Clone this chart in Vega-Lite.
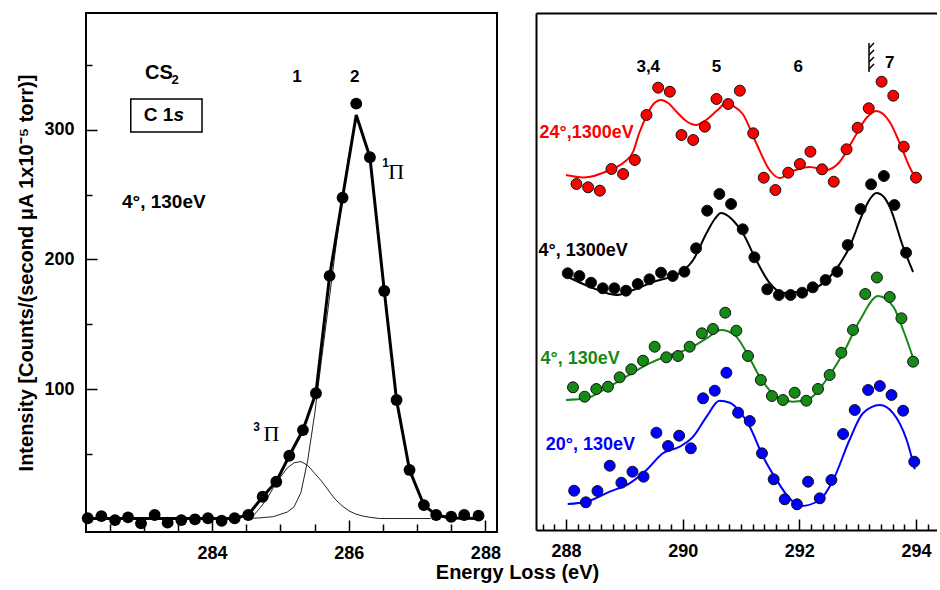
{
  "$schema": "https://vega.github.io/schema/vega-lite/v6.json",
  "padding": {"left": 15, "top": 12, "right": 0, "bottom": 0},
  "background": "white",
  "bounds": "flush",
  "spacing": 39,
  "title": {"text": "Energy Loss (eV)", "orient": "bottom", "anchor": "middle", "font": "Liberation Sans", "fontSize": 20, "fontWeight": "bold", "color": "black", "dx": 41, "offset": 0},
  "config": {
    "axis": {"labelFont": "Liberation Sans", "labelFontWeight": "bold", "labelFontSize": 18, "labelColor": "black", "tickColor": "black", "domainColor": "black", "grid": false, "titleFont": "Liberation Sans", "titleFontWeight": "bold", "titleColor": "black", "labelFlush": false, "labelOverlap": false},
    "text": {"font": "Liberation Sans", "color": "black"}
  },
  "datasets": {
    "lpts": [
      {"x": 282.18, "y": 0.2}, {"x": 282.38, "y": 1.9}, {"x": 282.58, "y": -1.2}, {"x": 282.77, "y": 0.9}, {"x": 282.96, "y": -3.7},
      {"x": 283.16, "y": 2.7}, {"x": 283.35, "y": -3.2}, {"x": 283.55, "y": -1.2}, {"x": 283.75, "y": -0.6}, {"x": 283.94, "y": 0.2},
      {"x": 284.14, "y": -1.7}, {"x": 284.33, "y": 0.2}, {"x": 284.53, "y": 2.7}, {"x": 284.74, "y": 16.8}, {"x": 284.94, "y": 28.4},
      {"x": 285.13, "y": 48.5}, {"x": 285.33, "y": 68.3}, {"x": 285.52, "y": 96.7}, {"x": 285.72, "y": 187.3}, {"x": 285.91, "y": 247.7},
      {"x": 286.11, "y": 320.3}, {"x": 286.31, "y": 278.9}, {"x": 286.52, "y": 175.7}, {"x": 286.70, "y": 91.5}, {"x": 286.89, "y": 37.5},
      {"x": 287.10, "y": 10.4}, {"x": 287.28, "y": 2.7}, {"x": 287.50, "y": 1.4}, {"x": 287.69, "y": 2.7}, {"x": 287.90, "y": 2.2}
    ],
    "lfit": [
      {"x": 282.18, "y": 0}, {"x": 284.33, "y": 0}, {"x": 284.53, "y": 3}, {"x": 284.74, "y": 16.8}, {"x": 284.94, "y": 28.4},
      {"x": 285.13, "y": 48.5}, {"x": 285.33, "y": 68.3}, {"x": 285.52, "y": 97}, {"x": 285.72, "y": 187}, {"x": 285.91, "y": 248},
      {"x": 286.11, "y": 311.6}, {"x": 286.31, "y": 279}, {"x": 286.52, "y": 176}, {"x": 286.70, "y": 91.5}, {"x": 286.89, "y": 37.5},
      {"x": 287.10, "y": 10.4}, {"x": 287.28, "y": 2.7}, {"x": 287.50, "y": 0.5}, {"x": 287.90, "y": 0}
    ],
    "lthin": [
      {"c": "3P", "x": 284.5, "y": 0}, {"c": "3P", "x": 284.6, "y": 2}, {"c": "3P", "x": 284.7, "y": 8}, {"c": "3P", "x": 284.8, "y": 15},
      {"c": "3P", "x": 284.9, "y": 24}, {"c": "3P", "x": 285.0, "y": 32}, {"c": "3P", "x": 285.1, "y": 39}, {"c": "3P", "x": 285.2, "y": 43},
      {"c": "3P", "x": 285.3, "y": 44}, {"c": "3P", "x": 285.4, "y": 41}, {"c": "3P", "x": 285.5, "y": 35}, {"c": "3P", "x": 285.6, "y": 29},
      {"c": "3P", "x": 285.7, "y": 22}, {"c": "3P", "x": 285.8, "y": 15}, {"c": "3P", "x": 285.9, "y": 10}, {"c": "3P", "x": 286.0, "y": 6},
      {"c": "3P", "x": 286.1, "y": 3.5}, {"c": "3P", "x": 286.2, "y": 2}, {"c": "3P", "x": 286.3, "y": 1}, {"c": "3P", "x": 286.45, "y": 0},
      {"c": "3P", "x": 287.2, "y": 0},
      {"c": "1P", "x": 284.5, "y": 0}, {"c": "1P", "x": 284.7, "y": 0.5}, {"c": "1P", "x": 284.9, "y": 1.5}, {"c": "1P", "x": 285.1, "y": 5},
      {"c": "1P", "x": 285.2, "y": 9}, {"c": "1P", "x": 285.3, "y": 20}, {"c": "1P", "x": 285.4, "y": 45}, {"c": "1P", "x": 285.5, "y": 80},
      {"c": "1P", "x": 285.6, "y": 122}, {"c": "1P", "x": 285.7, "y": 163}, {"c": "1P", "x": 285.8, "y": 205}, {"c": "1P", "x": 285.9, "y": 245},
      {"c": "1P", "x": 286.0, "y": 280}, {"c": "1P", "x": 286.11, "y": 311.6}, {"c": "1P", "x": 286.31, "y": 279}, {"c": "1P", "x": 286.52, "y": 176},
      {"c": "1P", "x": 286.70, "y": 91.5}, {"c": "1P", "x": 286.89, "y": 37.5}, {"c": "1P", "x": 287.10, "y": 10.4}, {"c": "1P", "x": 287.28, "y": 2.5},
      {"c": "1P", "x": 287.45, "y": 0}
    ],
    "ltext": [
      {"k": "big", "x": 283.019, "y": 344, "t": "CS"},
      {"k": "sub", "x": 283.46, "y": 338.6, "t": "2"},
      {"k": "mid", "x": 283.0, "y": 311.8, "t": "C 1"},
      {"k": "ital", "x": 283.436, "y": 311.8, "t": "s"},
      {"k": "mid", "x": 282.682, "y": 244.4, "t": "4°, 130eV"},
      {"k": "peak", "x": 285.244, "y": 341.2, "t": "1"},
      {"k": "peak", "x": 286.088, "y": 341.2, "t": "2"},
      {"k": "sup", "x": 286.54, "y": 274.3, "t": "1"},
      {"k": "sup", "x": 284.65, "y": 70.9, "t": "3"},
      {"k": "pi", "x": 286.695, "y": 267.8, "t": "Π"},
      {"k": "pi", "x": 284.87, "y": 65, "t": "Π"}
    ],
    "lbox": [{"x": 282.81, "x2": 283.853, "y": 298.5, "y2": 323.9}],
    "rpts": [
      {"s": "r", "x": 288.18, "y": 346}, {"s": "r", "x": 288.38, "y": 342.7}, {"s": "r", "x": 288.58, "y": 339.3}, {"s": "r", "x": 288.78, "y": 361},
      {"s": "r", "x": 288.98, "y": 356}, {"s": "r", "x": 289.18, "y": 370}, {"s": "r", "x": 289.38, "y": 415}, {"s": "r", "x": 289.58, "y": 442.3},
      {"s": "r", "x": 289.78, "y": 438.3}, {"s": "r", "x": 289.98, "y": 395}, {"s": "r", "x": 290.18, "y": 390}, {"s": "r", "x": 290.38, "y": 403.3},
      {"s": "r", "x": 290.58, "y": 431}, {"s": "r", "x": 290.78, "y": 426}, {"s": "r", "x": 290.98, "y": 439.3}, {"s": "r", "x": 291.21, "y": 396.7},
      {"s": "r", "x": 291.39, "y": 352.3}, {"s": "r", "x": 291.59, "y": 340}, {"s": "r", "x": 291.81, "y": 357.3}, {"s": "r", "x": 292.01, "y": 366},
      {"s": "r", "x": 292.19, "y": 378.3}, {"s": "r", "x": 292.39, "y": 360.7}, {"s": "r", "x": 292.59, "y": 348.3}, {"s": "r", "x": 292.81, "y": 380.7},
      {"s": "r", "x": 293.00, "y": 402.3}, {"s": "r", "x": 293.19, "y": 421.7}, {"s": "r", "x": 293.41, "y": 448.3}, {"s": "r", "x": 293.61, "y": 434.3},
      {"s": "r", "x": 293.79, "y": 383.3}, {"s": "r", "x": 294.00, "y": 352.3},
      {"s": "k", "x": 288.03, "y": 256.7}, {"s": "k", "x": 288.23, "y": 254}, {"s": "k", "x": 288.43, "y": 247.3}, {"s": "k", "x": 288.63, "y": 241.7},
      {"s": "k", "x": 288.83, "y": 241.7}, {"s": "k", "x": 289.03, "y": 239.3}, {"s": "k", "x": 289.23, "y": 246}, {"s": "k", "x": 289.43, "y": 250.7},
      {"s": "k", "x": 289.63, "y": 257.3}, {"s": "k", "x": 289.83, "y": 254}, {"s": "k", "x": 290.03, "y": 258.3}, {"s": "k", "x": 290.23, "y": 281.7},
      {"s": "k", "x": 290.42, "y": 319.3}, {"s": "k", "x": 290.63, "y": 336}, {"s": "k", "x": 290.83, "y": 326}, {"s": "k", "x": 291.03, "y": 300.7},
      {"s": "k", "x": 291.23, "y": 272.7}, {"s": "k", "x": 291.45, "y": 240.7}, {"s": "k", "x": 291.65, "y": 235}, {"s": "k", "x": 291.85, "y": 235},
      {"s": "k", "x": 292.05, "y": 237.3}, {"s": "k", "x": 292.23, "y": 242.7}, {"s": "k", "x": 292.45, "y": 250}, {"s": "k", "x": 292.65, "y": 258.3},
      {"s": "k", "x": 292.83, "y": 285}, {"s": "k", "x": 293.05, "y": 321}, {"s": "k", "x": 293.23, "y": 345.7}, {"s": "k", "x": 293.45, "y": 354},
      {"s": "k", "x": 293.63, "y": 325}, {"s": "k", "x": 293.83, "y": 277.3},
      {"s": "g", "x": 288.12, "y": 142.7}, {"s": "g", "x": 288.32, "y": 133.3}, {"s": "g", "x": 288.52, "y": 141}, {"s": "g", "x": 288.72, "y": 143.3},
      {"s": "g", "x": 288.92, "y": 152.7}, {"s": "g", "x": 289.12, "y": 160.7}, {"s": "g", "x": 289.32, "y": 169.3}, {"s": "g", "x": 289.52, "y": 183.3},
      {"s": "g", "x": 289.72, "y": 172.7}, {"s": "g", "x": 289.92, "y": 174}, {"s": "g", "x": 290.12, "y": 183.3}, {"s": "g", "x": 290.33, "y": 196.7},
      {"s": "g", "x": 290.52, "y": 201}, {"s": "g", "x": 290.73, "y": 217.3}, {"s": "g", "x": 290.92, "y": 199.3}, {"s": "g", "x": 291.12, "y": 174},
      {"s": "g", "x": 291.34, "y": 150}, {"s": "g", "x": 291.53, "y": 134}, {"s": "g", "x": 291.72, "y": 130}, {"s": "g", "x": 291.92, "y": 137.3},
      {"s": "g", "x": 292.12, "y": 129.3}, {"s": "g", "x": 292.32, "y": 141}, {"s": "g", "x": 292.52, "y": 155}, {"s": "g", "x": 292.72, "y": 177.3},
      {"s": "g", "x": 292.92, "y": 200}, {"s": "g", "x": 293.13, "y": 236}, {"s": "g", "x": 293.33, "y": 252.5}, {"s": "g", "x": 293.55, "y": 233},
      {"s": "g", "x": 293.75, "y": 211.7}, {"s": "g", "x": 293.95, "y": 168.3},
      {"s": "b", "x": 288.14, "y": 39.3}, {"s": "b", "x": 288.34, "y": 27.7}, {"s": "b", "x": 288.54, "y": 39}, {"s": "b", "x": 288.75, "y": 64.3},
      {"s": "b", "x": 288.95, "y": 47.3}, {"s": "b", "x": 289.14, "y": 58.3}, {"s": "b", "x": 289.33, "y": 53.3}, {"s": "b", "x": 289.55, "y": 97.3},
      {"s": "b", "x": 289.75, "y": 84}, {"s": "b", "x": 289.94, "y": 94.3}, {"s": "b", "x": 290.14, "y": 81.7}, {"s": "b", "x": 290.35, "y": 131.7},
      {"s": "b", "x": 290.55, "y": 139.3}, {"s": "b", "x": 290.75, "y": 157.3}, {"s": "b", "x": 290.95, "y": 117.3}, {"s": "b", "x": 291.15, "y": 109},
      {"s": "b", "x": 291.36, "y": 76.7}, {"s": "b", "x": 291.56, "y": 50.7}, {"s": "b", "x": 291.75, "y": 30.7}, {"s": "b", "x": 291.96, "y": 25.7},
      {"s": "b", "x": 292.15, "y": 48.3}, {"s": "b", "x": 292.35, "y": 31.7}, {"s": "b", "x": 292.55, "y": 50}, {"s": "b", "x": 292.75, "y": 96},
      {"s": "b", "x": 292.95, "y": 120}, {"s": "b", "x": 293.18, "y": 140}, {"s": "b", "x": 293.38, "y": 144}, {"s": "b", "x": 293.58, "y": 135},
      {"s": "b", "x": 293.78, "y": 119.3}, {"s": "b", "x": 293.97, "y": 68.3}
    ],
    "rcurve": [
      {"s": "r", "x": 288.0, "y": 355}, {"s": "r", "x": 288.3, "y": 352.5}, {"s": "r", "x": 288.75, "y": 360}, {"s": "r", "x": 289.0, "y": 368},
      {"s": "r", "x": 289.15, "y": 378}, {"s": "r", "x": 289.25, "y": 396}, {"s": "r", "x": 289.38, "y": 414}, {"s": "r", "x": 289.5, "y": 426},
      {"s": "r", "x": 289.63, "y": 430}, {"s": "r", "x": 289.75, "y": 427}, {"s": "r", "x": 289.9, "y": 418}, {"s": "r", "x": 290.06, "y": 409},
      {"s": "r", "x": 290.23, "y": 405}, {"s": "r", "x": 290.4, "y": 410}, {"s": "r", "x": 290.6, "y": 420}, {"s": "r", "x": 290.75, "y": 427},
      {"s": "r", "x": 290.87, "y": 424}, {"s": "r", "x": 291.03, "y": 416}, {"s": "r", "x": 291.26, "y": 387}, {"s": "r", "x": 291.49, "y": 360},
      {"s": "r", "x": 291.66, "y": 352}, {"s": "r", "x": 291.89, "y": 359}, {"s": "r", "x": 292.18, "y": 363}, {"s": "r", "x": 292.46, "y": 360},
      {"s": "r", "x": 292.69, "y": 368}, {"s": "r", "x": 292.92, "y": 390}, {"s": "r", "x": 293.15, "y": 412}, {"s": "r", "x": 293.32, "y": 419},
      {"s": "r", "x": 293.55, "y": 408}, {"s": "r", "x": 293.72, "y": 387}, {"s": "r", "x": 293.89, "y": 363}, {"s": "r", "x": 293.98, "y": 353},
      {"s": "k", "x": 288.0, "y": 254}, {"s": "k", "x": 288.46, "y": 242}, {"s": "k", "x": 288.86, "y": 235}, {"s": "k", "x": 289.15, "y": 240},
      {"s": "k", "x": 289.49, "y": 248}, {"s": "k", "x": 289.95, "y": 257}, {"s": "k", "x": 290.18, "y": 270}, {"s": "k", "x": 290.41, "y": 297},
      {"s": "k", "x": 290.55, "y": 311}, {"s": "k", "x": 290.66, "y": 317}, {"s": "k", "x": 290.78, "y": 314}, {"s": "k", "x": 290.89, "y": 308},
      {"s": "k", "x": 291.03, "y": 297}, {"s": "k", "x": 291.26, "y": 270}, {"s": "k", "x": 291.49, "y": 247}, {"s": "k", "x": 291.72, "y": 237},
      {"s": "k", "x": 292.18, "y": 240}, {"s": "k", "x": 292.58, "y": 257}, {"s": "k", "x": 292.86, "y": 283}, {"s": "k", "x": 293.09, "y": 317},
      {"s": "k", "x": 293.2, "y": 330}, {"s": "k", "x": 293.32, "y": 337}, {"s": "k", "x": 293.45, "y": 333}, {"s": "k", "x": 293.55, "y": 323},
      {"s": "k", "x": 293.78, "y": 283}, {"s": "k", "x": 293.95, "y": 258},
      {"s": "g", "x": 288.0, "y": 130}, {"s": "g", "x": 288.35, "y": 131.7}, {"s": "g", "x": 288.69, "y": 141.7}, {"s": "g", "x": 289.03, "y": 153.3},
      {"s": "g", "x": 289.43, "y": 166.7}, {"s": "g", "x": 289.78, "y": 175}, {"s": "g", "x": 290.12, "y": 181.7}, {"s": "g", "x": 290.41, "y": 191.7},
      {"s": "g", "x": 290.66, "y": 200}, {"s": "g", "x": 290.89, "y": 195}, {"s": "g", "x": 291.09, "y": 178.3}, {"s": "g", "x": 291.32, "y": 153.3},
      {"s": "g", "x": 291.61, "y": 133.3}, {"s": "g", "x": 291.89, "y": 128.3}, {"s": "g", "x": 292.18, "y": 131.7}, {"s": "g", "x": 292.46, "y": 150},
      {"s": "g", "x": 292.75, "y": 176.7}, {"s": "g", "x": 293.04, "y": 210}, {"s": "g", "x": 293.35, "y": 234}, {"s": "g", "x": 293.61, "y": 223.3},
      {"s": "g", "x": 293.78, "y": 200}, {"s": "g", "x": 293.95, "y": 172},
      {"s": "b", "x": 288.03, "y": 26}, {"s": "b", "x": 288.35, "y": 28.3}, {"s": "b", "x": 288.75, "y": 38.3}, {"s": "b", "x": 289.09, "y": 46.7},
      {"s": "b", "x": 289.38, "y": 60}, {"s": "b", "x": 289.66, "y": 76.7}, {"s": "b", "x": 289.95, "y": 83.3}, {"s": "b", "x": 290.18, "y": 93.3},
      {"s": "b", "x": 290.41, "y": 113.3}, {"s": "b", "x": 290.63, "y": 129.3}, {"s": "b", "x": 290.81, "y": 127.3}, {"s": "b", "x": 290.98, "y": 118.3},
      {"s": "b", "x": 291.15, "y": 103.3}, {"s": "b", "x": 291.38, "y": 73.3}, {"s": "b", "x": 291.61, "y": 50}, {"s": "b", "x": 291.83, "y": 31.7},
      {"s": "b", "x": 292.03, "y": 24}, {"s": "b", "x": 292.35, "y": 30}, {"s": "b", "x": 292.58, "y": 50}, {"s": "b", "x": 292.86, "y": 90},
      {"s": "b", "x": 293.09, "y": 116.7}, {"s": "b", "x": 293.38, "y": 125}, {"s": "b", "x": 293.61, "y": 116.7}, {"s": "b", "x": 293.84, "y": 90},
      {"s": "b", "x": 293.98, "y": 60.7}
    ],
    "rtext": [
      {"k": "pk", "s": "k", "x": 289.41, "y": 463, "t": "3,4"},
      {"k": "pk", "s": "k", "x": 290.58, "y": 463, "t": "5"},
      {"k": "pk", "s": "k", "x": 291.98, "y": 463, "t": "6"},
      {"k": "pk", "s": "k", "x": 293.55, "y": 467.5, "t": "7"},
      {"k": "ser", "s": "r", "x": 287.545, "y": 397, "t": "24°,1300eV"},
      {"k": "ser", "s": "k", "x": 287.528, "y": 279.3, "t": "4°, 1300eV"},
      {"k": "ser", "s": "g", "x": 287.562, "y": 170.7, "t": "4°, 130eV"},
      {"k": "ser", "s": "b", "x": 287.652, "y": 85, "t": "20°, 130eV"}
    ],
    "thr": [
      {"x": 293.195, "x2": 293.195, "y": 458, "y2": 487},
      {"x": 293.195, "x2": 293.28, "y": 482, "y2": 487},
      {"x": 293.195, "x2": 293.28, "y": 475, "y2": 480},
      {"x": 293.195, "x2": 293.28, "y": 468, "y2": 473},
      {"x": 293.195, "x2": 293.28, "y": 461, "y2": 466}
    ]
  },
  "hconcat": [
    {
      "width": 411,
      "height": 519,
      "view": {"stroke": "black", "strokeWidth": 2},
      "resolve": {"axis": {"x": "independent", "y": "independent"}},
      "layer": [
        {
          "data": {"name": "lthin"},
          "mark": {"type": "line", "color": "#222222", "strokeWidth": 1},
          "encoding": {
            "x": {"field": "x", "type": "quantitative", "scale": {"domain": [282.155, 288.17], "nice": false, "zero": false},
                  "axis": {"orient": "bottom", "values": [282.5, 283, 283.5, 284.5, 285, 285.5, 286.5, 287, 287.5], "labels": false, "domain": false, "tickSize": -8, "tickWidth": 1.5, "title": null}},
            "y": {"field": "y", "type": "quantitative", "scale": {"domain": [-10.4, 390.3], "nice": false, "zero": false},
                  "axis": {"orient": "left", "values": [50, 150, 250, 350], "labels": false, "domain": false, "tickSize": -6, "tickWidth": 1.5, "title": null}},
            "detail": {"field": "c"}
          }
        },
        {
          "data": {"name": "lfit"},
          "mark": {"type": "line", "color": "black", "strokeWidth": 3},
          "encoding": {
            "x": {"field": "x", "type": "quantitative", "scale": {"domain": [282.155, 288.17], "nice": false, "zero": false},
                  "axis": {"orient": "bottom", "values": [284, 286, 288], "labels": false, "domain": false, "tickSize": -12, "tickWidth": 1.5, "title": null}},
            "y": {"field": "y", "type": "quantitative", "scale": {"domain": [-10.4, 390.3], "nice": false, "zero": false},
                  "axis": {"orient": "left", "values": [100, 200, 300], "labels": false, "domain": false, "tickSize": -11, "tickWidth": 1.5, "title": null}}
          }
        },
        {
          "data": {"name": "lpts"},
          "mark": {"type": "point", "shape": "circle", "filled": true, "color": "black", "size": 140, "opacity": 1},
          "encoding": {
            "x": {"field": "x", "type": "quantitative", "scale": {"domain": [282.155, 288.17], "nice": false, "zero": false},
                  "axis": {"orient": "bottom", "values": [284, 286, 288], "ticks": false, "domain": false, "labelPadding": 12, "title": null}},
            "y": {"field": "y", "type": "quantitative", "scale": {"domain": [-10.4, 390.3], "nice": false, "zero": false},
                  "axis": {"orient": "left", "values": [100, 200, 300], "ticks": false, "domain": false, "labelPadding": 12,
                           "title": "Intensity [Counts/(second μA 1x10⁻⁵ torr)]", "titleFontSize": 20, "titlePadding": 7}}
          }
        },
        {
          "data": {"name": "lbox"},
          "mark": {"type": "rect", "fill": null, "fillOpacity": 0, "stroke": "black", "strokeWidth": 1.5},
          "encoding": {
            "x": {"field": "x", "type": "quantitative", "scale": {"domain": [282.155, 288.17], "nice": false, "zero": false}, "axis": null},
            "x2": {"field": "x2"},
            "y": {"field": "y", "type": "quantitative", "scale": {"domain": [-10.4, 390.3], "nice": false, "zero": false}, "axis": null},
            "y2": {"field": "y2"}
          }
        },
        {
          "data": {"name": "ltext"},
          "transform": [{"filter": "datum.k == 'big'"}],
          "mark": {"type": "text", "align": "left", "baseline": "middle", "fontSize": 20, "fontWeight": "bold"},
          "encoding": {
            "x": {"field": "x", "type": "quantitative", "scale": {"domain": [282.155, 288.17], "nice": false, "zero": false}, "axis": null},
            "y": {"field": "y", "type": "quantitative", "scale": {"domain": [-10.4, 390.3], "nice": false, "zero": false}, "axis": null},
            "text": {"field": "t"}
          }
        },
        {
          "data": {"name": "ltext"},
          "transform": [{"filter": "datum.k == 'mid'"}],
          "mark": {"type": "text", "align": "left", "baseline": "middle", "fontSize": 19, "fontWeight": "bold"},
          "encoding": {
            "x": {"field": "x", "type": "quantitative", "scale": {"domain": [282.155, 288.17], "nice": false, "zero": false}, "axis": null},
            "y": {"field": "y", "type": "quantitative", "scale": {"domain": [-10.4, 390.3], "nice": false, "zero": false}, "axis": null},
            "text": {"field": "t"}
          }
        },
        {
          "data": {"name": "ltext"},
          "transform": [{"filter": "datum.k == 'ital'"}],
          "mark": {"type": "text", "align": "left", "baseline": "middle", "fontSize": 19, "fontWeight": "bold", "fontStyle": "italic"},
          "encoding": {
            "x": {"field": "x", "type": "quantitative", "scale": {"domain": [282.155, 288.17], "nice": false, "zero": false}, "axis": null},
            "y": {"field": "y", "type": "quantitative", "scale": {"domain": [-10.4, 390.3], "nice": false, "zero": false}, "axis": null},
            "text": {"field": "t"}
          }
        },
        {
          "data": {"name": "ltext"},
          "transform": [{"filter": "datum.k == 'sub'"}],
          "mark": {"type": "text", "align": "center", "baseline": "middle", "fontSize": 13, "fontWeight": "bold"},
          "encoding": {
            "x": {"field": "x", "type": "quantitative", "scale": {"domain": [282.155, 288.17], "nice": false, "zero": false}, "axis": null},
            "y": {"field": "y", "type": "quantitative", "scale": {"domain": [-10.4, 390.3], "nice": false, "zero": false}, "axis": null},
            "text": {"field": "t"}
          }
        },
        {
          "data": {"name": "ltext"},
          "transform": [{"filter": "datum.k == 'peak'"}],
          "mark": {"type": "text", "align": "center", "baseline": "middle", "fontSize": 17, "fontWeight": "bold"},
          "encoding": {
            "x": {"field": "x", "type": "quantitative", "scale": {"domain": [282.155, 288.17], "nice": false, "zero": false}, "axis": null},
            "y": {"field": "y", "type": "quantitative", "scale": {"domain": [-10.4, 390.3], "nice": false, "zero": false}, "axis": null},
            "text": {"field": "t"}
          }
        },
        {
          "data": {"name": "ltext"},
          "transform": [{"filter": "datum.k == 'sup'"}],
          "mark": {"type": "text", "align": "center", "baseline": "middle", "fontSize": 12, "fontWeight": "bold"},
          "encoding": {
            "x": {"field": "x", "type": "quantitative", "scale": {"domain": [282.155, 288.17], "nice": false, "zero": false}, "axis": null},
            "y": {"field": "y", "type": "quantitative", "scale": {"domain": [-10.4, 390.3], "nice": false, "zero": false}, "axis": null},
            "text": {"field": "t"}
          }
        },
        {
          "data": {"name": "ltext"},
          "transform": [{"filter": "datum.k == 'pi'"}],
          "mark": {"type": "text", "align": "center", "baseline": "middle", "fontSize": 22, "font": "Liberation Serif", "fontWeight": "normal"},
          "encoding": {
            "x": {"field": "x", "type": "quantitative", "scale": {"domain": [282.155, 288.17], "nice": false, "zero": false}, "axis": null},
            "y": {"field": "y", "type": "quantitative", "scale": {"domain": [-10.4, 390.3], "nice": false, "zero": false}, "axis": null},
            "text": {"field": "t"}
          }
        }
      ]
    },
    {
      "width": 401,
      "height": 517,
      "view": {"stroke": null},
      "resolve": {"axis": {"x": "independent", "y": "independent"}},
      "layer": [
        {
          "data": {"name": "rcurve"},
          "mark": {"type": "line", "strokeWidth": 2, "interpolate": "monotone"},
          "encoding": {
            "x": {"field": "x", "type": "quantitative", "scale": {"domain": [287.486, 294.36], "nice": false, "zero": false},
                  "axis": {"orient": "bottom", "values": [288, 290, 292, 294], "ticks": false, "domain": true, "domainWidth": 2, "labelPadding": 12, "title": null}},
            "y": {"field": "y", "type": "quantitative", "scale": {"domain": [0, 517], "nice": false, "zero": false},
                  "axis": {"orient": "left", "labels": false, "ticks": false, "domain": true, "domainWidth": 2, "title": null}},
            "color": {"field": "s", "type": "nominal", "scale": {"domain": ["r", "k", "g", "b"], "range": ["#ff0000", "#000000", "#168a16", "#0000ff"]}, "legend": null}
          }
        },
        {
          "data": {"name": "rpts"},
          "mark": {"type": "point", "shape": "circle", "filled": true, "size": 120, "opacity": 1, "stroke": "#111111", "strokeWidth": 1},
          "encoding": {
            "x": {"field": "x", "type": "quantitative", "scale": {"domain": [287.486, 294.36], "nice": false, "zero": false},
                  "axis": {"orient": "bottom", "values": [288, 290, 292, 294], "labels": false, "domain": false, "tickSize": -11, "tickWidth": 1.5, "title": null}},
            "y": {"field": "y", "type": "quantitative", "scale": {"domain": [0, 517], "nice": false, "zero": false}, "axis": null},
            "fill": {"field": "s", "type": "nominal", "scale": {"domain": ["r", "k", "g", "b"], "range": ["#ff0000", "#000000", "#168a16", "#0000ff"]}, "legend": null}
          }
        },
        {
          "data": {"name": "rtext"},
          "transform": [{"filter": "datum.k == 'ser'"}],
          "mark": {"type": "text", "align": "left", "baseline": "middle", "fontSize": 18, "fontWeight": "bold"},
          "encoding": {
            "x": {"field": "x", "type": "quantitative", "scale": {"domain": [287.486, 294.36], "nice": false, "zero": false},
                  "axis": {"orient": "bottom", "values": [287.6, 287.8, 288.2, 288.4, 288.6, 288.8, 289, 289.2, 289.4, 289.6, 289.8, 290.2, 290.4, 290.6, 290.8, 291, 291.2, 291.4, 291.6, 291.8, 292.2, 292.4, 292.6, 292.8, 293, 293.2, 293.4, 293.6, 293.8, 294.2], "labels": false, "domain": false, "tickSize": -6, "tickWidth": 1.5, "title": null}},
            "y": {"field": "y", "type": "quantitative", "scale": {"domain": [0, 517], "nice": false, "zero": false}, "axis": null},
            "text": {"field": "t"},
            "color": {"field": "s", "type": "nominal", "scale": {"domain": ["r", "k", "g", "b"], "range": ["#ff0000", "#000000", "#168a16", "#0000ff"]}, "legend": null}
          }
        },
        {
          "data": {"name": "rtext"},
          "transform": [{"filter": "datum.k == 'pk'"}],
          "mark": {"type": "text", "align": "center", "baseline": "middle", "fontSize": 17, "fontWeight": "bold", "color": "black"},
          "encoding": {
            "x": {"field": "x", "type": "quantitative", "scale": {"domain": [287.486, 294.36], "nice": false, "zero": false},
                  "axis": {"orient": "top", "labels": false, "ticks": false, "domain": true, "domainWidth": 2, "title": null}},
            "y": {"field": "y", "type": "quantitative", "scale": {"domain": [0, 517], "nice": false, "zero": false}, "axis": null},
            "text": {"field": "t"}
          }
        },
        {
          "data": {"name": "thr"},
          "mark": {"type": "rule", "color": "black", "strokeWidth": 1.5},
          "encoding": {
            "x": {"field": "x", "type": "quantitative", "scale": {"domain": [287.486, 294.36], "nice": false, "zero": false}, "axis": null},
            "x2": {"field": "x2"},
            "y": {"field": "y", "type": "quantitative", "scale": {"domain": [0, 517], "nice": false, "zero": false}, "axis": null},
            "y2": {"field": "y2"}
          }
        }
      ]
    }
  ]
}
